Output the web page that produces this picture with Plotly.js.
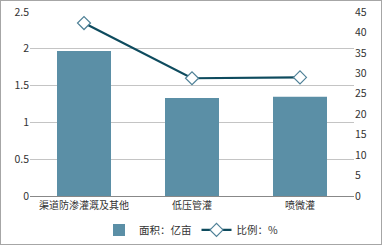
<!DOCTYPE html>
<html><head><meta charset="utf-8">
<script src="https://cdn.plot.ly/plotly-3.0.1.min.js"></script>
<style>body{margin:0;padding:0;background:#fff}#c{width:380px;height:243px;border:1px solid #a6a6a6}</style>
</head><body><div id="c"></div>
<script>
const categories = ['渠道防渗灌溉及其他', '低压管灌', '喷微灌'];
const areaValues = [1.97, 1.33, 1.35];
const ratioValues = [42.3, 28.8, 29.0];
const barName = '面积：亿亩';
const lineName = '比例：%';

const font = {family: '"Noto Sans CJK SC", "Noto Sans", sans-serif', size: 10.5, color: '#333'};
Plotly.newPlot('c', [
  {type: 'bar', x: categories, y: areaValues, name: barName, marker: {color: '#5b8fa6'}, yaxis: 'y'},
  {type: 'scatter', mode: 'lines+markers', x: categories, y: ratioValues, name: lineName, yaxis: 'y2',
   line: {color: '#0e4b5e', width: 2.2},
   marker: {symbol: 'diamond', size: 10, color: '#ffffff', line: {color: '#4f8197', width: 1.2}}}
], {
  width: 380, height: 243,
  margin: {l: 29, r: 27, t: 11, b: 48},
  paper_bgcolor: '#fff', plot_bgcolor: '#fff',
  font: font,
  bargap: 0.5,
  showlegend: true,
  legend: {orientation: 'h', x: 0.5, xanchor: 'center', xref: 'container', yref: 'container', y: 0.058, yanchor: 'middle', font: font},
  xaxis: {showgrid: false, showline: true, linecolor: '#888', linewidth: 1, ticks: '', tickfont: {...font, size: 10}, automargin: false},
  yaxis: {range: [0, 2.5], dtick: 0.5, showgrid: true, gridcolor: '#c4c4c4', gridwidth: 1, zeroline: false,
          showline: false, ticks: '', tickfont: font, automargin: false},
  yaxis2: {range: [0, 45], dtick: 5, overlaying: 'y', side: 'right', showgrid: false, zeroline: false,
           showline: false, ticks: '', tickfont: font, automargin: false}
}, {displayModeBar: false, staticPlot: true});
</script></body></html>
